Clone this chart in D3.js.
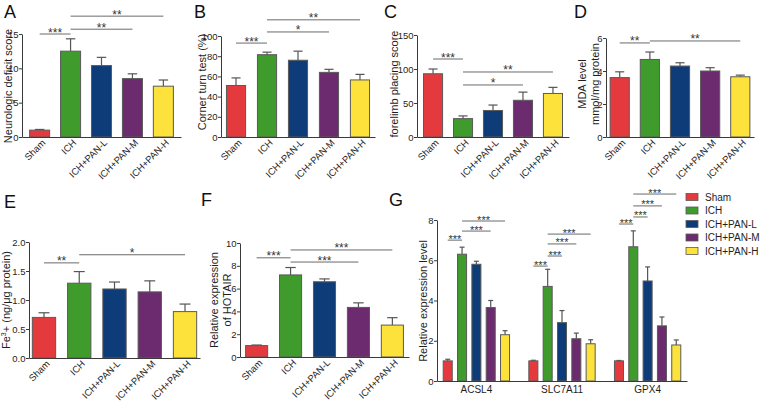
<!DOCTYPE html>
<html><head><meta charset="utf-8">
<script src="https://cdn.jsdelivr.net/npm/d3@7"></script>
<style>
html,body{margin:0;padding:0;background:#fff;}
svg{display:block;font-family:"Liberation Sans",Arial,sans-serif;}
</style></head>
<body>
<svg id="chart" width="760" height="401"></svg>
<script>
// ---------------- DATA ----------------
const groups = ["Sham", "ICH", "ICH+PAN-L", "ICH+PAN-M", "ICH+PAN-H"];

const neuroScore = [1.0, 12.5, 10.4, 8.5, 7.4];
const neuroErr   = [0.1, 1.8, 1.2, 0.7, 0.9];
const neuroTicks = [0, 5, 10, 15];

const cornerTurn = [51, 81.5, 76, 64, 56.5];
const cornerErr  = [7.5, 2.5, 9, 3, 5.5];
const cornerTicks = [0, 20, 40, 60, 80, 100];

const forelimb    = [93, 27, 39, 54, 64];
const forelimbErr = [7, 4, 8, 12, 9];
const forelimbTicks = [0, 50, 100, 150];

const mda    = [3.6, 4.7, 4.3, 4.0, 3.65];
const mdaErr = [0.35, 0.45, 0.2, 0.2, 0.1];
const mdaTicks = [0, 2, 4, 6];

const fe    = [0.70, 1.29, 1.19, 1.14, 0.80];
const feErr = [0.08, 0.20, 0.12, 0.19, 0.13];
const feTicks = [0.0, 0.5, 1.0, 1.5, 2.0];

const hotair    = [1.0, 7.2, 6.6, 4.35, 2.8];
const hotairErr = [0.05, 0.65, 0.25, 0.4, 0.65];
const hotairTicks = [0, 2, 4, 6, 8, 10];

const genes = ["ACSL4", "SLC7A11", "GPX4"];
const acsl4      = [1.0, 6.3, 5.8, 3.65, 2.3];
const acsl4Err   = [0.08, 0.35, 0.15, 0.35, 0.2];
const slc7a11    = [1.0, 4.7, 2.9, 2.1, 1.85];
const slc7a11Err = [0.03, 0.85, 0.6, 0.28, 0.2];
const gpx4       = [1.0, 6.67, 4.97, 2.74, 1.79];
const gpx4Err    = [0.02, 0.79, 0.7, 0.44, 0.25];
const geneTicks  = [0, 2, 4, 6, 8];

// significance brackets: [fromGroup, toGroup, level (data units), label]
const sigA = [[0,1,15.0,"***"],[1,3,15.7,"**"],[1,4,17.6,"**"]];
const sigB = [[0,1,93,"***"],[1,3,104,"*"],[1,4,116,"**"]];
const sigC = [[0,1,114.7,"***"],[1,3,76.5,"*"],[1,4,95.6,"**"]];
const sigD = [[0,1,5.7,"**"],[1,4,5.82,"**"]];
const sigE = [[0,1,1.64,"**"],[1,4,1.78,"*"]];
const sigF = [[0,1,8.7,"***"],[1,3,8.33,"***"],[1,4,9.39,"***"]];
const sigG = [
  [[0,1,7.0,"***"],[1,3,7.45,"***"],[1,4,7.95,"***"]],
  [[0,1,5.71,"***"],[1,2,6.21,"***"],[1,3,6.81,"***"],[1,4,7.30,"***"]],
  [[0,1,7.80,"***"],[1,2,8.15,"***"],[1,3,8.70,"***"],[1,4,9.29,"***"]]
];

// ---------------- STYLE ----------------
const palette = ["#e43a3d", "#3f9b2c", "#0e3c78", "#6c2b6e", "#fde23b"];
const axisColor = "#3a3a3a";
const textColor = "#1e1e1e";
const sigColor = "#6a6a6a";

const svg = d3.select("#chart");

function drawYAxis(g, y, x0, ticks, fmt) {
  const ax = d3.axisLeft(y).tickValues(ticks).tickSize(3).tickSizeOuter(0).tickPadding(0.5)
    .tickFormat(fmt || d3.format("d"));
  const a = g.append("g").attr("transform", `translate(${x0},0)`).call(ax);
  a.select(".domain").attr("stroke", axisColor);
  a.selectAll(".tick line").attr("stroke", axisColor);
  a.selectAll(".tick text").attr("fill", textColor).attr("font-size", 9.5)
    .attr("font-family", "Liberation Sans, Arial, sans-serif");
}

function yTitle(g, lines, x, y, lh) {
  const t = g.append("text").attr("transform", `translate(${x},${y}) rotate(-90)`)
    .attr("text-anchor", "middle").attr("font-size", 11).attr("fill", textColor);
  lines.forEach((l, i) => {
    const ts = t.append("tspan").attr("x", 0).attr("dy", i === 0 ? 0 : lh);
    if (typeof l === "string") ts.text(l);
    else l(ts);
  });
}

function panelLetter(txt, x, y) {
  svg.append("text").attr("x", x).attr("y", y).attr("font-size", 18)
    .attr("fill", "#111").text(txt);
}

function drawBars(g, x, y, vals, errs, names) {
  const bw = x.bandwidth();
  const cap = Math.max(5, bw * 0.45);
  names.forEach((n, i) => {
    const cx = x(n) + bw / 2;
    g.append("line").attr("x1", cx).attr("x2", cx)
      .attr("y1", y(vals[i])).attr("y2", y(vals[i] + errs[i]))
      .attr("stroke", "#555").attr("stroke-width", 1.2);
    g.append("line").attr("x1", cx - cap / 2).attr("x2", cx + cap / 2)
      .attr("y1", y(vals[i] + errs[i])).attr("y2", y(vals[i] + errs[i]))
      .attr("stroke", "#555").attr("stroke-width", 1.2);
    g.append("rect").attr("x", x(n) + 0.5).attr("y", y(vals[i]))
      .attr("width", bw - 1).attr("height", y(0) - y(vals[i]))
      .attr("fill", palette[i]).attr("stroke", "#5a5a5a").attr("stroke-width", 1);
  });
}

function drawSig(g, x, y, sigs, names, fs) {
  const bw = x.bandwidth();
  sigs.forEach(([a, b, lev, lab]) => {
    const xa = x(names[a]) + bw / 2, xb = x(names[b]) + bw / 2;
    const yy = y(lev);
    g.append("line").attr("x1", xa).attr("x2", xb).attr("y1", yy).attr("y2", yy)
      .attr("stroke", sigColor).attr("stroke-width", 1);
    g.append("text").attr("x", (xa + xb) / 2).attr("y", yy + 2.5)
      .attr("text-anchor", "middle").attr("font-size", fs || 12).attr("fill", "#333")
      .text(lab);
  });
}

function barPanel(cfg) {
  const g = svg.append("g");
  const x = d3.scaleBand().domain(groups).range([cfg.x0, cfg.x1])
    .paddingInner(cfg.pi).paddingOuter(cfg.po);
  const y = d3.scaleLinear().domain([0, cfg.ymax]).range([cfg.yb, cfg.yt]);
  drawBars(g, x, y, cfg.vals, cfg.errs, groups);
  const xa = d3.axisBottom(x).tickSize(0).tickSizeOuter(0).tickFormat("");
  const xg = g.append("g").attr("transform", `translate(0,${cfg.yb})`).call(xa);
  xg.select(".domain").attr("stroke", axisColor);
  groups.forEach((n) => {
    const cx = x(n) + x.bandwidth() / 2;
    g.append("text").attr("transform", `translate(${cx + 4},${cfg.yb + 4}) rotate(-45)`)
      .attr("text-anchor", "end").attr("dy", "0.35em").attr("font-size", 9.5)
      .attr("fill", textColor).text(n);
  });
  drawYAxis(g, y, cfg.x0, cfg.ticks, cfg.fmt);
  drawSig(g, x, y, cfg.sigs, groups);
  return g;
}

// ---------------- PANEL A ----------------
let gA = barPanel({x0: 22, x1: 181, yb: 137, yt: 34, ymax: 15, pi: 0.32, po: 0.23,
  vals: neuroScore, errs: neuroErr, ticks: neuroTicks, sigs: sigA});
yTitle(gA, ["Neurologic deficit score"], 12, 86, 12);
panelLetter("A", 4, 18);

// ---------------- PANEL B ----------------
let gB = barPanel({x0: 221, x1: 375, yb: 137, yt: 36, ymax: 100, pi: 0.35, po: 0.16,
  vals: cornerTurn, errs: cornerErr, ticks: cornerTicks, sigs: sigB});
yTitle(gB, ["Corner turn test (%)"], 206, 82, 12);
panelLetter("B", 194, 18);

// ---------------- PANEL C ----------------
let gC = barPanel({x0: 417, x1: 569, yb: 137, yt: 35, ymax: 150, pi: 0.33, po: 0.2,
  vals: forelimb, errs: forelimbErr, ticks: forelimbTicks, sigs: sigC});
yTitle(gC, ["forelimb placing score"], 398, 84, 12);
panelLetter("C", 384, 18);

// ---------------- PANEL D ----------------
let gD = barPanel({x0: 606, x1: 754, yb: 137, yt: 38, ymax: 6, pi: 0.33, po: 0.12,
  vals: mda, errs: mdaErr, ticks: mdaTicks, sigs: sigD});
yTitle(gD, ["MDA level", "mmol/mg protein"], 586, 84, 13);
panelLetter("D", 574, 18);

// ---------------- PANEL E ----------------
let gE = barPanel({x0: 29, x1: 200, yb: 358, yt: 242, ymax: 2, pi: 0.31, po: 0.08,
  vals: fe, errs: feErr, ticks: feTicks, sigs: sigE, fmt: d3.format(".1f")});
yTitle(gE, [ts => { ts.text("Fe"); ts.append("tspan").attr("font-size", 7).attr("dy", -4).text("3");
  ts.append("tspan").attr("dy", 4).text("+ (ng/μg protein)"); }], 10, 300, 12);
panelLetter("E", 4, 208);

// ---------------- PANEL F ----------------
let gF = barPanel({x0: 240, x1: 409, yb: 357, yt: 243, ymax: 10, pi: 0.32, po: 0.15,
  vals: hotair, errs: hotairErr, ticks: hotairTicks, sigs: sigF});
yTitle(gF, ["Relative expression", "of HOTAIR"], 218, 300, 13);
panelLetter("F", 201, 206);

// ---------------- PANEL G ----------------
(function () {
  const g = svg.append("g");
  const geneVals = [acsl4, slc7a11, gpx4];
  const geneErrs = [acsl4Err, slc7a11Err, gpx4Err];
  const x0 = d3.scaleBand().domain(genes).range([437, 687]).paddingInner(0.18).paddingOuter(0.05);
  const x1 = d3.scaleBand().domain(groups).range([0, x0.bandwidth()]).paddingInner(0.3).paddingOuter(0.1);
  const y = d3.scaleLinear().domain([0, 8]).range([381, 220]);
  genes.forEach((gene, gi) => {
    const gg = g.append("g").attr("transform", `translate(${x0(gene)},0)`);
    drawBars(gg, x1, y, geneVals[gi], geneErrs[gi], groups);
    drawSig(gg, x1, y, sigG[gi], groups, 11);
  });
  const xa = d3.axisBottom(x0).tickSize(0).tickSizeOuter(0).tickPadding(5);
  const xg = g.append("g").attr("transform", `translate(0,381)`).call(xa);
  xg.select(".domain").attr("stroke", axisColor);
  xg.selectAll(".tick text").attr("font-size", 10).attr("fill", textColor)
    .attr("font-family", "Liberation Sans, Arial, sans-serif");
  drawYAxis(g, y, 437, geneTicks);
  g.selectAll(".tick text").filter(function () { return this.closest("g") && true; });
  yTitle(g, ["Relative expression level"], 427, 301, 12);
  panelLetter("G", 389, 206);

  const lg = svg.append("g");
  groups.forEach((n, i) => {
    const yy = 197 + i * 13.5;
    lg.append("rect").attr("x", 686).attr("y", yy - 3.5).attr("width", 12).attr("height", 7)
      .attr("fill", palette[i]).attr("stroke", "#5a5a5a").attr("stroke-width", 0.8);
    lg.append("text").attr("x", 705).attr("y", yy).attr("dy", "0.35em")
      .attr("font-size", 10).attr("fill", textColor).text(n);
  });
})();
</script>
</body></html>
